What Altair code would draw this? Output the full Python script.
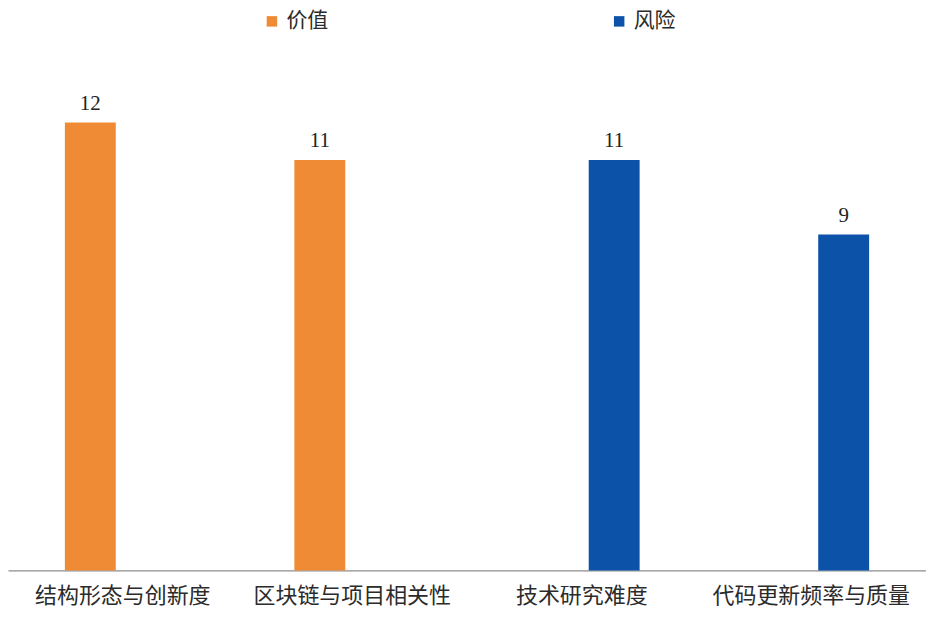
import altair as alt
import pandas as pd

categories = ["结构形态与创新度", "区块链与项目相关性", "技术研究难度", "代码更新频率与质量"]
series = ["价值", "价值", "风险", "风险"]
values = [12, 11, 11, 9]
series_order = ["价值", "风险"]
colors = ["#EE8B34", "#0C52A9"]

df = pd.DataFrame({"category": categories, "series": series, "value": values})

x = alt.X("category:N", sort=categories, title=None,
          scale=alt.Scale(paddingInner=0, paddingOuter=0),
          axis=alt.Axis(labelAngle=0, labelFont="Noto Sans CJK SC", labelFontSize=22,
                        labelColor="#2b2b2b", labelPadding=15, ticks=False, labelLimit=0,
                        labelOverlap=False,
                        domainColor="#8c8c8c", domainWidth=1.2, grid=False))
xo = alt.XOffset("series:N", sort=series_order,
                 scale=alt.Scale(domain=series_order, paddingInner=0.215, paddingOuter=0.877))
y = alt.Y("value:Q", title=None, scale=alt.Scale(domain=[0, 15]), axis=None)

bars = alt.Chart(df).mark_bar().encode(
    x=x, xOffset=xo, y=y,
    color=alt.Color("series:N", sort=series_order,
                    scale=alt.Scale(domain=series_order, range=colors),
                    legend=alt.Legend(title=None, orient="none", legendX=254, legendY=0,
                                      direction="horizontal", symbolType="square",
                                      symbolSize=110, symbolStrokeWidth=0,
                                      labelFont="Noto Sans CJK SC", labelFontSize=21,
                                      labelColor="#2b2b2b", columnPadding=281,
                                      symbolOffset=0, labelOffset=4))
)

labels = alt.Chart(df).mark_text(font="Liberation Serif", fontSize=21, color="#222222",
                                 baseline="alphabetic", dy=-13).encode(
    x=x, xOffset=xo, y=y, text="value:Q"
)

chart = (bars + labels).properties(
    width=920, height=561,
    padding={"left": 0, "top": 2, "right": 0, "bottom": 3},
).configure_view(stroke=None)

chart.save("out.html", embed_options={"renderer": "svg", "actions": False})
